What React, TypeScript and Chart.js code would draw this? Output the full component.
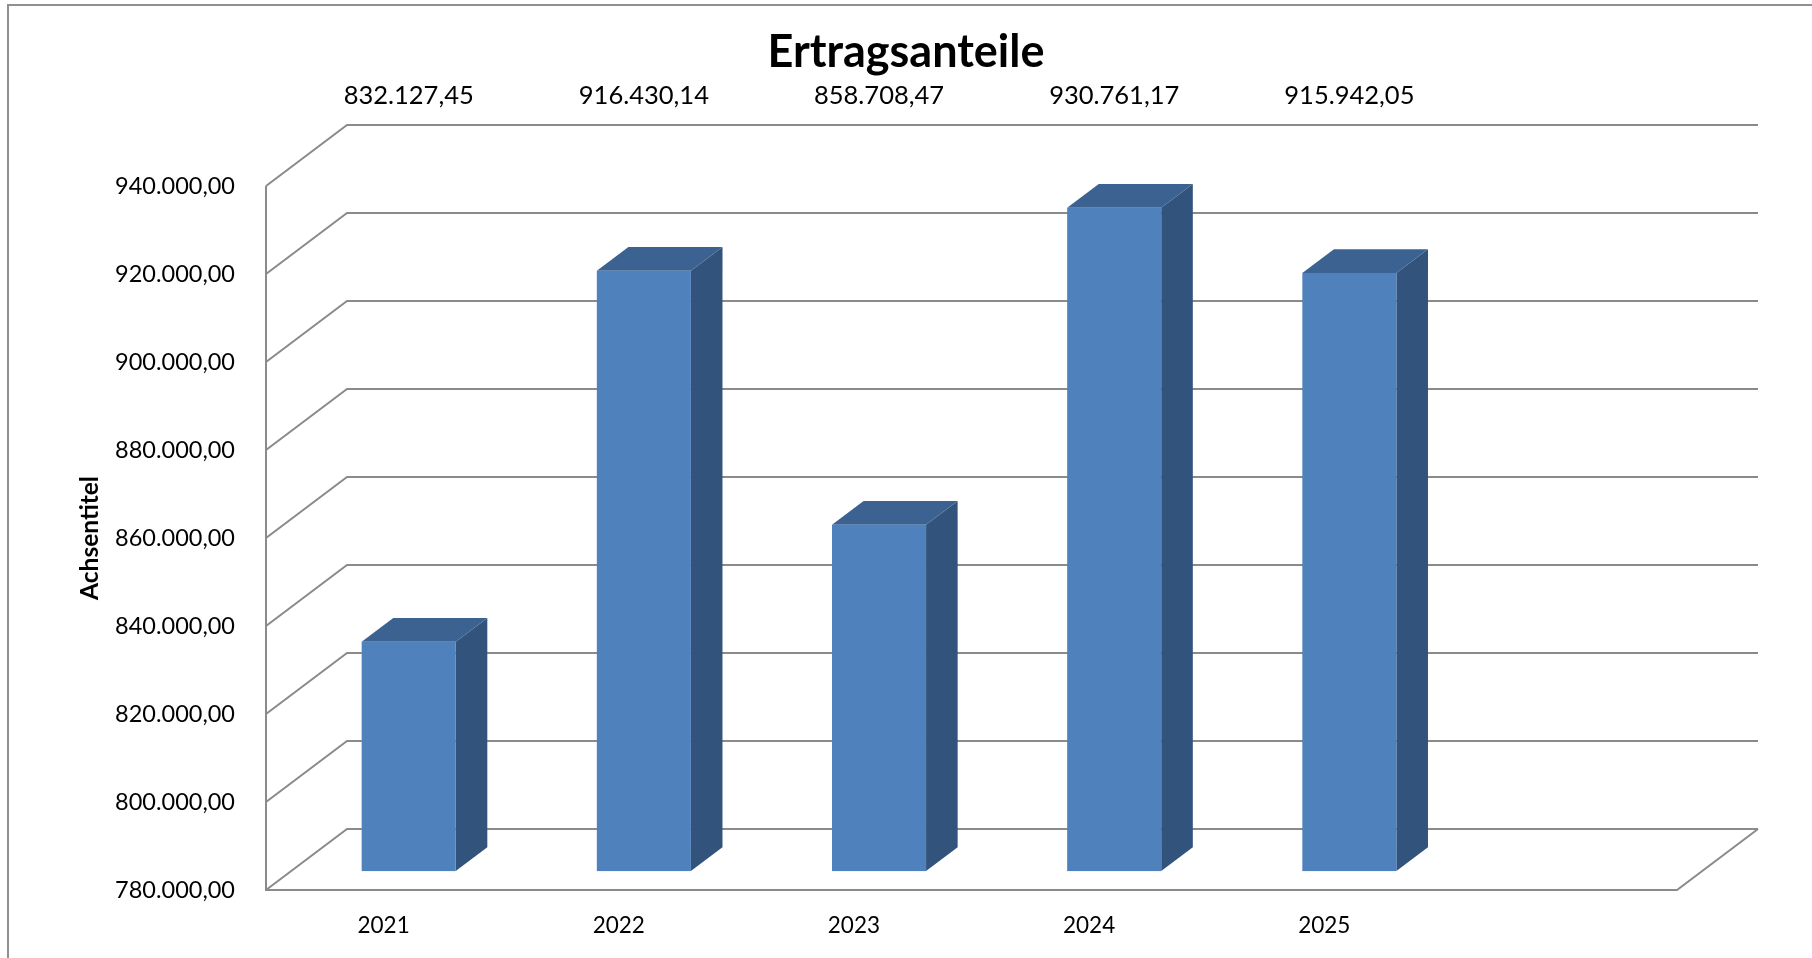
import React, { useEffect, useRef } from 'react';
import { Chart, registerables } from 'chart.js';

Chart.register(...registerables);

// ---- data ----
const CATEGORIES: string[] = ['2021', '2022', '2023', '2024', '2025', ''];
const VALUES: (number | null)[] = [832127.45, 916430.14, 858708.47, 930761.17, 915942.05, null];
const Y_MIN = 780000;
const Y_MAX = 940000;
const Y_STEP = 20000;
const TITLE = 'Ertragsanteile';
const AXIS_TITLE = 'Achsentitel';

// ---- style ----
const FONT = 'Lato';
const GRID_COLOR = '#8a8a8a';
const FRONT_COLOR = '#4F81BD';
const TOP_COLOR = '#3C6291';
const SIDE_COLOR = '#32537B';
const DEPTH_DX = 81;
const DEPTH_DY = 61;
const BAR_FRONT = 0.31;
const BAR_BACK = 0.7;

function fmtDe(v: number): string {
  const neg = v < 0;
  const [i, d] = Math.abs(v).toFixed(2).split('.');
  const int = i.replace(/\B(?=(\d{3})+(?!\d))/g, '.');
  return (neg ? '-' : '') + int + ',' + d;
}

const excel3d = {
  id: 'excel3d',
  beforeDraw(chart: any) {
    const ctx = chart.ctx;
    ctx.save();
    ctx.strokeStyle = '#909090';
    ctx.lineWidth = 2;
    ctx.strokeRect(8, 5, chart.width + 200, chart.height + 200);
    ctx.restore();
  },
  beforeDatasetsDraw(chart: any) {
    const { ctx, chartArea, scales } = chart;
    const { left, right, top, bottom } = chartArea;
    const y = scales.y;
    ctx.save();
    ctx.strokeStyle = GRID_COLOR;
    ctx.lineWidth = 2;
    ctx.lineJoin = 'miter';
    y.ticks.forEach((t: any) => {
      const py = y.getPixelForValue(t.value);
      ctx.beginPath();
      ctx.moveTo(left, py);
      ctx.lineTo(left + DEPTH_DX, py - DEPTH_DY);
      ctx.lineTo(right + DEPTH_DX, py - DEPTH_DY);
      ctx.stroke();
    });
    ctx.beginPath();
    ctx.moveTo(left, top);
    ctx.lineTo(left, bottom);
    ctx.lineTo(right, bottom);
    ctx.lineTo(right + DEPTH_DX, bottom - DEPTH_DY);
    ctx.stroke();
    ctx.restore();
  },
  afterDatasetsDraw(chart: any) {
    const { ctx, chartArea } = chart;
    const meta = chart.getDatasetMeta(0);
    const ddx = (BAR_BACK - BAR_FRONT) * DEPTH_DX;
    const ddy = (BAR_BACK - BAR_FRONT) * DEPTH_DY;
    ctx.save();
    meta.data.forEach((bar: any, i: number) => {
      const v = VALUES[i];
      if (v === null || v === undefined) return;
      const p = bar.getProps(['x', 'y', 'base', 'width'], true);
      const x0 = p.x - p.width / 2 + BAR_FRONT * DEPTH_DX;
      const x1 = x0 + p.width;
      const yt = p.y - BAR_FRONT * DEPTH_DY;
      const yb = p.base - BAR_FRONT * DEPTH_DY;
      // side
      ctx.fillStyle = SIDE_COLOR;
      ctx.beginPath();
      ctx.moveTo(x1, yt);
      ctx.lineTo(x1 + ddx, yt - ddy);
      ctx.lineTo(x1 + ddx, yb - ddy);
      ctx.lineTo(x1, yb);
      ctx.closePath();
      ctx.fill();
      // top
      ctx.fillStyle = TOP_COLOR;
      ctx.beginPath();
      ctx.moveTo(x0, yt);
      ctx.lineTo(x1, yt);
      ctx.lineTo(x1 + ddx, yt - ddy);
      ctx.lineTo(x0 + ddx, yt - ddy);
      ctx.closePath();
      ctx.fill();
      // front
      ctx.fillStyle = FRONT_COLOR;
      ctx.fillRect(x0, yt, p.width, yb - yt);
      // value label
      ctx.fillStyle = '#000';
      ctx.font = `25.5px ${FONT}`;
      ctx.textAlign = 'center';
      ctx.textBaseline = 'middle';
      ctx.fillText(fmtDe(v), (x0 + x1) / 2, chartArea.top - 90);
    });
    ctx.restore();
  },
};

export default function App() {
  const ref = useRef<HTMLCanvasElement>(null);
  useEffect(() => {
    Chart.defaults.font.family = FONT;
    Chart.defaults.color = '#000';
    const chart = new Chart(ref.current as HTMLCanvasElement, {
      type: 'bar',
      data: {
        labels: CATEGORIES,
        datasets: [
          {
            data: VALUES,
            base: Y_MIN,
            backgroundColor: 'rgba(0,0,0,0)',
            borderWidth: 0,
            barPercentage: 0.4,
            categoryPercentage: 1,
            yAxisID: 'y',
          },
        ],
      },
      options: {
        responsive: false,
        animation: false,
        layout: { padding: 0 },
        plugins: {
          legend: { display: false },
          tooltip: { enabled: false },
          title: {
            display: true,
            text: TITLE,
            color: '#000',
            font: { family: FONT, size: 45, weight: 'bold', lineHeight: 1.2 },
            padding: { top: 25, bottom: 107 },
          },
        },
        scales: {
          x: {
            offset: true,
            grid: { display: false, drawTicks: false },
            border: { display: false },
            ticks: { font: { family: FONT, size: 22.5 }, color: '#000', padding: 22, maxRotation: 0 },
            afterFit: (s: any) => {
              s.height = 68;
            },
          },
          y: {
            min: Y_MIN,
            max: Y_MAX,
            grid: { display: false, drawTicks: false },
            border: { display: false },
            ticks: {
              stepSize: Y_STEP,
              font: { family: FONT, size: 23.5 },
              color: '#000',
              padding: 31,
              callback: (v: any) => fmtDe(Number(v)),
            },
            title: {
              display: true,
              text: AXIS_TITLE,
              color: '#000',
              font: { family: FONT, size: 24.5, weight: 'bold', lineHeight: 1.2 },
              padding: { top: 75, bottom: 0 },
            },
            afterFit: (s: any) => {
              s.width = 266;
            },
          },
          yRight: {
            type: 'linear',
            position: 'right',
            display: true,
            grid: { display: false, drawTicks: false },
            border: { display: false },
            ticks: { display: false },
            afterFit: (s: any) => {
              s.width = 135;
            },
          },
        },
      },
      plugins: [excel3d],
    } as any);
    return () => chart.destroy();
  }, []);
  return (
    <div style={{ position: 'absolute', left: 0, top: 0, width: 1812, height: 958, background: '#fff' }}>
      <canvas ref={ref} width={1812} height={958} style={{ display: 'block' }} />
    </div>
  );
}
